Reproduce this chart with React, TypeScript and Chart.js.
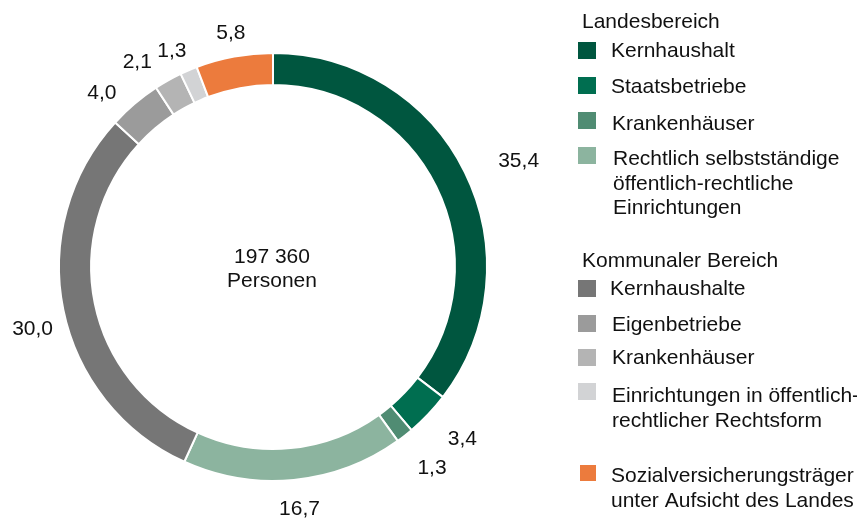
import React, { useEffect, useRef } from "react";
import { Chart, registerables } from "chart.js";

Chart.register(...registerables);

// ---- data ----
const categories = [
  "Kernhaushalt",
  "Staatsbetriebe",
  "Krankenhäuser",
  "Rechtlich selbstständige öffentlich-rechtliche Einrichtungen",
  "Kernhaushalte",
  "Eigenbetriebe",
  "Krankenhäuser",
  "Einrichtungen in öffentlich-rechtlicher Rechtsform",
  "Sozialversicherungsträger unter Aufsicht des Landes",
];
const shares = [35.4, 3.4, 1.3, 16.7, 30.0, 4.0, 2.1, 1.3, 5.8];
const valueLabels = ["35,4", "3,4", "1,3", "16,7", "30,0", "4,0", "2,1", "1,3", "5,8"];
const groupTitles = ["Landesbereich", "Kommunaler Bereich"];
const centerLines = ["197 360", "Personen"];
const legendLines = [
  ["Kernhaushalt"],
  ["Staatsbetriebe"],
  ["Krankenhäuser"],
  ["Rechtlich selbstständige", "öffentlich-rechtliche", "Einrichtungen"],
  ["Kernhaushalte"],
  ["Eigenbetriebe"],
  ["Krankenhäuser"],
  ["Einrichtungen in öffentlich-", "rechtlicher Rechtsform"],
  ["Sozialversicherungsträger", "unter Aufsicht des Landes"],
];

// ---- styles / layout ----
const colors = [
  "#00563F",
  "#006E50",
  "#508C73",
  "#8CB49F",
  "#767676",
  "#9B9B9B",
  "#B4B4B4",
  "#D2D3D5",
  "#EC7B3D",
];
const FONT_FAMILY = '"Liberation Sans", Arial, Helvetica, sans-serif';
const FONT = `21px ${FONT_FAMILY}`;
const TEXT_COLOR = "#111111";
const OFF = 8; // body margin
const CANVAS_W = 849;
const CANVAS_H = 512;
// label placement: [angle shift in degrees, distance beyond outer radius in px]
const labelNudge: [number, number][] = [
  [2.7, 54],
  [-1.5, 41],
  [-0.6, 41],
  [-0.7, 28],
  [-2.7, 34],
  [-4.0, 31],
  [-4.0, 33],
  [-1.7, 26],
  [0.3, 25],
];
// legend layout in page coords
const groupTitlePos = [
  [582, 28],
  [582, 267],
];
const legendLayout = [
  { sq: [578, 42, 18, 17], x: 611, base: [57] },
  { sq: [578, 77, 18, 17], x: 611, base: [93] },
  { sq: [578, 112, 18, 17], x: 612, base: [130] },
  { sq: [578, 147, 18, 17], x: 613, base: [165, 189.5, 214] },
  { sq: [578, 280, 18, 17], x: 610, base: [295] },
  { sq: [578, 315, 18, 17], x: 612, base: [331] },
  { sq: [578, 349, 18, 17], x: 612, base: [364] },
  { sq: [578, 383, 18, 17], x: 612, base: [401.5, 426.5] },
  { sq: [580, 465, 16, 16], x: 611, base: [482, 506.5] },
];

const overlayPlugin = {
  id: "overlay",
  afterDraw(chart: any) {
    const ctx = chart.ctx as CanvasRenderingContext2D;
    ctx.save();
    ctx.font = FONT;
    ctx.fillStyle = TEXT_COLOR;
    ctx.textBaseline = "alphabetic";

    const meta = chart.getDatasetMeta(0);
    let cx = 0;
    let cy = 0;
    meta.data.forEach((arc: any, i: number) => {
      const p = arc.getProps(["x", "y", "startAngle", "endAngle", "outerRadius"], true);
      cx = p.x;
      cy = p.y;
      const mid = (p.startAngle + p.endAngle) / 2 + (labelNudge[i][0] * Math.PI) / 180;
      const r = p.outerRadius + labelNudge[i][1];
      const lx = p.x + r * Math.cos(mid);
      const ly = p.y + r * Math.sin(mid);
      ctx.textAlign = "center";
      ctx.fillText(valueLabels[i], lx, ly + 7.5);
    });

    // center text
    ctx.textAlign = "center";
    ctx.fillText(centerLines[0], cx - 1, cy - 4);
    ctx.fillText(centerLines[1], cx - 1, cy + 19.5);

    // legend
    ctx.textAlign = "left";
    groupTitles.forEach((t, i) => {
      ctx.fillStyle = TEXT_COLOR;
      ctx.fillText(t, groupTitlePos[i][0] - OFF, groupTitlePos[i][1] - OFF);
    });
    legendLayout.forEach((it, i) => {
      ctx.fillStyle = colors[i];
      ctx.fillRect(it.sq[0] - OFF, it.sq[1] - OFF, it.sq[2], it.sq[3]);
      ctx.fillStyle = TEXT_COLOR;
      legendLines[i].forEach((line, j) => {
        ctx.fillText(line, it.x - OFF, it.base[j] - OFF);
      });
    });
    ctx.restore();
  },
};

export default function App() {
  const ref = useRef<HTMLCanvasElement | null>(null);
  useEffect(() => {
    document.documentElement.style.overflow = "hidden";
    document.body.style.overflow = "hidden";
    if (!ref.current) return;
    const chart = new Chart(ref.current, {
      type: "doughnut",
      data: {
        labels: categories,
        datasets: [
          {
            data: shares,
            backgroundColor: colors,
            borderColor: "#ffffff",
            borderWidth: 2,
            hoverOffset: 0,
          },
        ],
      },
      options: {
        responsive: false,
        animation: false,
        cutout: "85%",
        layout: { padding: { left: 50, top: 44, right: CANVAS_W - 480, bottom: CANVAS_H - 474 } },
        plugins: {
          legend: { display: false },
          tooltip: { enabled: false },
        },
      },
      plugins: [overlayPlugin],
    });
    return () => chart.destroy();
  }, []);
  return (
    <div style={{ width: CANVAS_W, height: CANVAS_H, background: "#fff" }}>
      <canvas ref={ref} width={CANVAS_W} height={CANVAS_H} style={{ display: "block" }} />
    </div>
  );
}
